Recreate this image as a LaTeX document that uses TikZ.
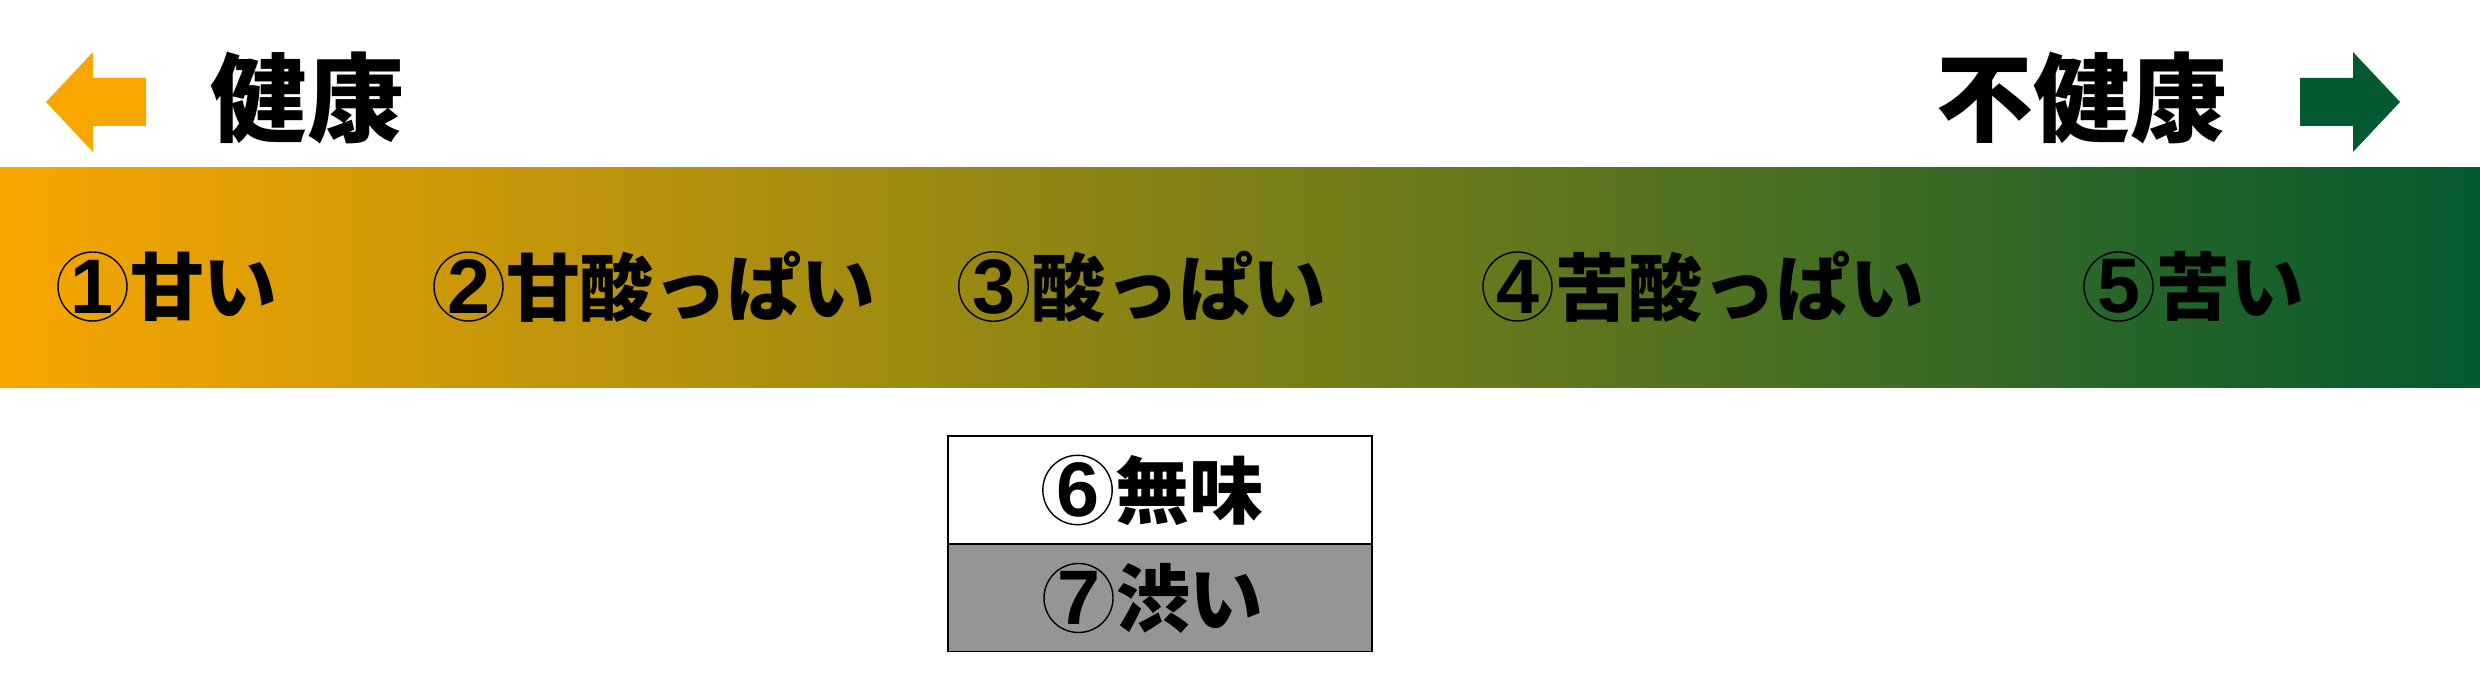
\documentclass[tikz,border=0pt]{standalone}
\usepackage{fontspec}
\newfontfamily\jp{Noto Sans CJK JP}
\newfontfamily\numfont{Liberation Sans}
\definecolor{orangeC}{HTML}{F8A600}
\definecolor{greenC}{HTML}{045A2F}
\definecolor{grayC}{HTML}{959595}
\usetikzlibrary{positioning}
\begin{document}
\begin{tikzpicture}[x=0.1mm,y=-0.1mm,
  lbl/.style={font=\jp\bfseries\fontsize{21pt}{21pt}\selectfont, inner sep=0pt, anchor=west, text=black},
  numc/.style={circle, draw=black, line width=0.14mm, minimum size=6.9mm, inner sep=0pt, font=\numfont\bfseries\fontsize{22pt}{22pt}\selectfont, text=black},
  big/.style={font=\jp\bfseries\fontsize{27.5pt}{27.5pt}\selectfont, inner sep=0pt, anchor=west, text=black},
  band/.style={rectangle, draw=none, minimum width=248mm, minimum height=22mm, inner sep=0pt, left color=orangeC, right color=greenC},
  tastebox/.style={rectangle, draw=black, line width=0.15mm, minimum width=42.4mm, minimum height=10.75mm, inner sep=0pt}]
\useasboundingbox (0,0) rectangle (2480,684);
% band
\node[band] (band) at (1240,278) {};
% arrows
\fill[orangeC] (46,102) -- (93,52) -- (93,78) -- (146,78) -- (146,126) -- (93,126) -- (93,152) -- cycle;
\fill[greenC] (2400,102) -- (2353,52) -- (2353,78) -- (2300,78) -- (2300,126) -- (2353,126) -- (2353,152) -- cycle;
% headings
\node[big] (healthy) at (210,98) {健康};
\node[big] (unhealthy) at (1936,98) {不健康};
% band labels
\node[numc] (c1) at (92.5,286.5) {1};
\node[lbl, right=0.5pt of c1] (t1) {甘い};
\node[numc] (c2) at (468.5,286.5) {2};
\node[lbl, right=0.5pt of c2] (t2) {甘酸っぱい};
\node[numc] (c3) at (993.5,286.5) {3};
\node[lbl, right=0.5pt of c3] (t3) {酸っぱい};
\node[numc] (c4) at (1517.5,286.5) {4};
\node[lbl, right=0.5pt of c4] (t4) {苦酸っぱい};
\node[numc] (c5) at (2118.5,286.5) {5};
\node[lbl, right=0.5pt of c5] (t5) {苦い};
% boxes
\node[tastebox, fill=white] (b6) at (1160,490) {};
\node[tastebox, fill=grayC] (b7) at (1160,597.5) {};
\node[numc] (c6) at (1077.5,490) {6};
\node[lbl, right=0.5pt of c6] (t6) {無味};
\node[numc] (c7) at (1078.5,598) {7};
\node[lbl, right=0.5pt of c7] (t7) {渋い};
\end{tikzpicture}
\end{document}
